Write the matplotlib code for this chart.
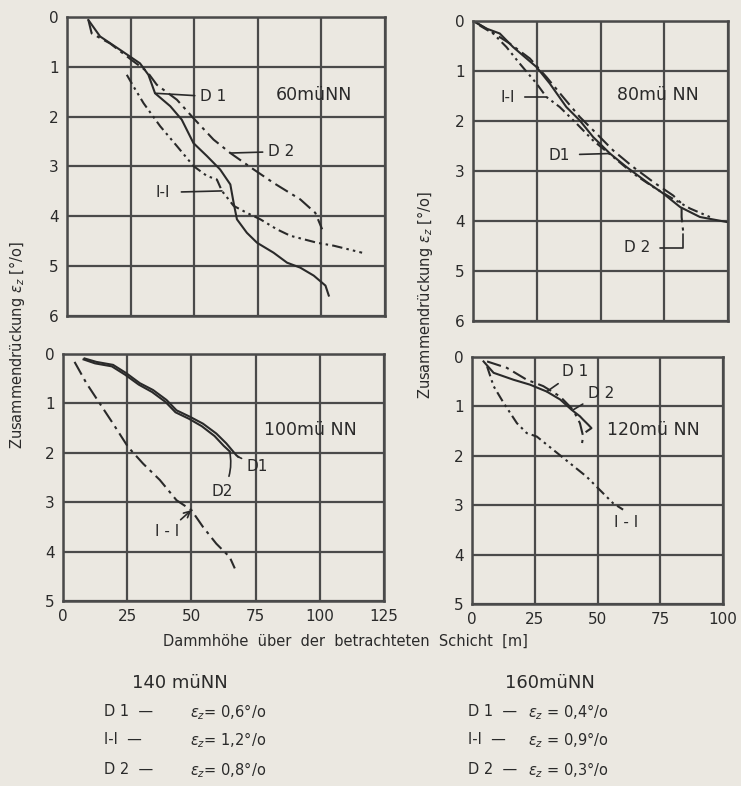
import matplotlib.pyplot as plt
import numpy as np

paper = "#ebe8e1"
ink = "#2a2a2a"
gridc = "#4a4a4a"

ls_d1 = "-"
ls_d2 = (0, (7, 2.5, 1.5, 2.5))
ls_ii = (0, (5, 2, 1.2, 2, 1.2, 2))

# 60 m ue NN
x60_d1 = [8.4, 13.0, 20.9, 28.7, 32.0, 34.6, 40.6, 45.1, 49.7, 55.0, 60.2, 64.2, 65.5, 66.8, 70.7, 74.7, 81.2, 86.5, 91.7, 97.0, 101.6, 102.9]
y60_d1 = [0.06, 0.39, 0.66, 0.93, 1.16, 1.53, 1.79, 2.06, 2.53, 2.79, 3.06, 3.36, 3.73, 4.06, 4.33, 4.53, 4.73, 4.93, 5.03, 5.19, 5.39, 5.59]
x60_d2 = [8.4, 9.7, 16.9, 26.1, 31.4, 35.3, 43.2, 49.7, 57.6, 64.2, 73.4, 81.2, 91.7, 97.6, 100.3]
y60_d2 = [0.06, 0.33, 0.53, 0.89, 1.09, 1.36, 1.66, 2.03, 2.46, 2.73, 3.06, 3.33, 3.66, 3.93, 4.26]
x60_ii = [23.5, 26.1, 30.1, 36.6, 43.2, 49.7, 55.0, 58.9, 60.9, 65.5, 70.7, 76.0, 82.5, 87.8, 98.3, 104.9, 116.0]
y60_ii = [1.16, 1.39, 1.73, 2.19, 2.59, 2.99, 3.19, 3.26, 3.49, 3.79, 3.93, 4.06, 4.26, 4.39, 4.53, 4.59, 4.73]

# 80 m ue NN
x80_d1 = [0.3, 5.2, 10.5, 15.7, 24.9, 30.1, 36.6, 41.9, 47.1, 53.7, 60.2, 68.1, 74.6, 81.2, 89.0, 99.5]
y80_d1 = [0.0, 0.15, 0.25, 0.52, 0.92, 1.25, 1.72, 1.99, 2.32, 2.65, 2.92, 3.22, 3.45, 3.72, 3.92, 4.02]
x80_d2 = [0.7, 6.5, 14.4, 22.3, 28.8, 35.3, 41.9, 48.4, 55.0, 62.8, 70.7, 78.5, 81.8, 81.8, 82.5]
y80_d2 = [0.02, 0.19, 0.45, 0.75, 1.12, 1.52, 1.92, 2.25, 2.59, 2.92, 3.22, 3.49, 3.65, 3.92, 4.25]
x80_ii = [2.6, 7.9, 13.1, 18.3, 24.9, 28.8, 34.0, 40.6, 47.1, 55.0, 62.8, 70.7, 77.2, 85.1, 92.9]
y80_ii = [0.09, 0.25, 0.52, 0.85, 1.25, 1.52, 1.72, 2.05, 2.39, 2.72, 3.05, 3.32, 3.52, 3.75, 3.92]

# 100 m ue NN
x100_d1 = [8.4, 13.0, 19.5, 24.7, 29.9, 35.1, 40.3, 44.2, 49.4, 54.5, 59.7, 63.6, 67.5, 68.2]
y100_d1 = [0.09, 0.16, 0.22, 0.39, 0.59, 0.73, 0.93, 1.14, 1.27, 1.41, 1.61, 1.81, 2.05, 2.08]
x100_d2 = [8.0, 12.5, 19.0, 24.2, 29.5, 34.7, 39.9, 43.8, 49.0, 54.0, 59.0, 62.6, 64.9]
y100_d2 = [0.11, 0.19, 0.25, 0.42, 0.62, 0.77, 0.97, 1.18, 1.31, 1.46, 1.66, 1.86, 1.97]
x100_ii = [4.5, 9.1, 14.3, 19.5, 25.3, 31.2, 37.7, 44.2, 50.0, 54.5, 59.7, 64.9, 66.9]
y100_ii = [0.16, 0.59, 1.0, 1.41, 1.88, 2.22, 2.55, 2.96, 3.16, 3.5, 3.84, 4.11, 4.34]

# 120 m ue NN
x120_d1 = [4.6, 8.6, 16.5, 23.1, 29.8, 35.1, 39.7, 43.0, 44.3, 46.3, 47.6, 45.6]
y120_d1 = [0.09, 0.32, 0.46, 0.56, 0.70, 0.86, 1.07, 1.20, 1.27, 1.37, 1.44, 1.51]
x120_d2 = [6.0, 13.9, 21.8, 28.4, 35.1, 40.3, 43.0, 44.3, 43.7]
y120_d2 = [0.09, 0.22, 0.46, 0.59, 0.80, 1.07, 1.34, 1.61, 1.78]
x120_ii = [6.0, 8.6, 12.6, 17.9, 21.8, 25.8, 32.4, 39.0, 45.6, 50.9, 56.2, 60.2]
y120_ii = [0.19, 0.59, 0.93, 1.34, 1.54, 1.61, 1.88, 2.15, 2.42, 2.69, 2.96, 3.09]

fig = plt.figure(figsize=(7.41, 7.86), dpi=100, facecolor=paper)

ax1 = fig.add_axes([67 / 741, 1 - 316 / 786, 318 / 741, 299 / 786])
ax2 = fig.add_axes([473 / 741, 1 - 321 / 786, 255 / 741, 300 / 786])
ax3 = fig.add_axes([63 / 741, 1 - 601 / 786, 321 / 741, 247 / 786])
ax4 = fig.add_axes([472 / 741, 1 - 604 / 786, 251 / 741, 247 / 786])


def setup(ax, xmax, ymax, show_x):
    ax.set_facecolor(paper)
    ax.set_xlim(0, xmax)
    ax.set_ylim(ymax, 0)
    ax.set_xticks(np.arange(0, xmax + 1, 25))
    ax.set_yticks(range(ymax + 1))
    ax.grid(True, color=gridc, lw=1.6)
    ax.set_axisbelow(True)
    ax.tick_params(length=0, labelsize=11, colors=ink, pad=6)
    if not show_x:
        ax.set_xticklabels([])
    for s in ax.spines.values():
        s.set_color(gridc)
        s.set_linewidth(1.8)


setup(ax1, 125, 6, False)
setup(ax2, 100, 6, False)
setup(ax3, 125, 5, True)
setup(ax4, 100, 5, True)

lw = 1.5
ax1.plot(x60_d1, y60_d1, color=ink, lw=lw, ls=ls_d1)
ax1.plot(x60_d2, y60_d2, color=ink, lw=lw, ls=ls_d2)
ax1.plot(x60_ii, y60_ii, color=ink, lw=lw, ls=ls_ii)
ax2.plot(x80_d1, y80_d1, color=ink, lw=lw, ls=ls_d1)
ax2.plot(x80_d2, y80_d2, color=ink, lw=lw, ls=ls_d2)
ax2.plot(x80_ii, y80_ii, color=ink, lw=lw, ls=ls_ii)
ax3.plot(x100_d1, y100_d1, color=ink, lw=lw, ls=ls_d1)
ax3.plot(x100_d2, y100_d2, color=ink, lw=lw, ls=ls_d1)
ax3.plot(x100_ii, y100_ii, color=ink, lw=lw, ls=ls_d2)
ax4.plot(x120_d1, y120_d1, color=ink, lw=lw, ls=ls_d1)
ax4.plot(x120_d2, y120_d2, color=ink, lw=lw, ls=ls_d2)
ax4.plot(x120_ii, y120_ii, color=ink, lw=lw, ls=ls_ii)

lead = dict(arrowstyle="-", color=ink, lw=1.2, shrinkA=2, shrinkB=0)
fs = 11

# panel labels
ax1.text(97, 1.56, "60müNN", fontsize=12.5, ha="center", va="center", color=ink)
ax1.annotate("D 1", xy=(34.6, 1.53), xytext=(52.4, 1.6), fontsize=fs, va="center", color=ink, arrowprops=lead)
ax1.annotate("D 2", xy=(64.2, 2.73), xytext=(79.1, 2.7), fontsize=fs, va="center", color=ink, arrowprops=lead)
ax1.annotate("I-I", xy=(60.9, 3.49), xytext=(40.6, 3.52), fontsize=fs, va="center", ha="right", color=ink,
             arrowprops=dict(lead, shrinkA=6))

ax2.text(72.5, 1.48, "80mü NN", fontsize=12.5, ha="center", va="center", color=ink)
ax2.annotate("I-I", xy=(28.8, 1.52), xytext=(16.5, 1.52), fontsize=fs, va="center", ha="right", color=ink,
             arrowprops=dict(lead, shrinkA=5))
ax2.annotate("D1", xy=(53.7, 2.65), xytext=(38.0, 2.68), fontsize=fs, va="center", ha="right", color=ink,
             arrowprops=dict(lead, shrinkA=5))
ax2.annotate("D 2", xy=(82.5, 4.25), xytext=(69.4, 4.54), fontsize=fs, va="center", ha="right", color=ink,
             arrowprops=dict(lead, shrinkA=5, connectionstyle="angle,angleA=0,angleB=90,rad=0"))

ax3.text(96.2, 1.54, "100mü NN", fontsize=12.5, ha="center", va="center", color=ink)
ax3.annotate("D1", xy=(68.2, 2.08), xytext=(71.6, 2.27), fontsize=fs, va="center", color=ink, arrowprops=lead)
ax3.annotate("D2", xy=(64.9, 1.97), xytext=(61.9, 2.79), fontsize=fs, va="center", ha="center", color=ink,
             arrowprops=dict(lead, shrinkA=4, connectionstyle="arc3,rad=0.2"))
ax3.annotate("I - I", xy=(50.0, 3.16), xytext=(40.5, 3.6), fontsize=fs, va="center", ha="center", color=ink,
             arrowprops=dict(arrowstyle="->", color=ink, lw=1.2, shrinkA=2, shrinkB=0))

ax4.text(72.1, 1.48, "120mü NN", fontsize=12.5, ha="center", va="center", color=ink)
ax4.annotate("D 1", xy=(29.8, 0.70), xytext=(35.9, 0.30), fontsize=fs, va="center", color=ink, arrowprops=lead)
ax4.annotate("D 2", xy=(40.3, 1.07), xytext=(46.2, 0.73), fontsize=fs, va="center", color=ink, arrowprops=lead)
ax4.text(61.4, 3.36, "I - I", fontsize=fs, ha="center", va="center", color=ink)

# axis titles
ylab = "Zusammendrückung $\\varepsilon_z$ [°/o]"
fig.text(17 / 741, 1 - 345 / 786, ylab, rotation=90, ha="center", va="center", fontsize=10.5, color=ink)
fig.text(425 / 741, 1 - 295 / 786, ylab, rotation=90, ha="center", va="center", fontsize=10.5, color=ink)
fig.text(345 / 741, 1 - 641 / 786, "Dammhöhe  über  der  betrachteten  Schicht  [m]",
         ha="center", va="center", fontsize=10.5, color=ink)

# notes for 140 and 160 m
fig.text(180 / 741, 1 - 683 / 786, "140 müNN", ha="center", va="center", fontsize=13, color=ink)
fig.text(550 / 741, 1 - 683 / 786, "160müNN", ha="center", va="center", fontsize=13, color=ink)

names = ["D 1", "I-I", "D 2"]
eps140 = ["0,6", "1,2", "0,8"]
eps160 = ["0,4", "0,9", "0,3"]
rows_y = [712, 740, 770]
for name, e1, e2, py in zip(names, eps140, eps160, rows_y):
    y = 1 - py / 786
    fig.text(104 / 741, y, name + "  —", ha="left", va="center", fontsize=10.5, color=ink)
    fig.text(190 / 741, y, "$\\varepsilon_z$= " + e1 + "°/o", ha="left", va="center", fontsize=10.5, color=ink)
    fig.text(468 / 741, y, name + "  —", ha="left", va="center", fontsize=10.5, color=ink)
    fig.text(528 / 741, y, "$\\varepsilon_z$ = " + e2 + "°/o", ha="left", va="center", fontsize=10.5, color=ink)

fig.savefig("out.png", dpi=100, facecolor=paper)
